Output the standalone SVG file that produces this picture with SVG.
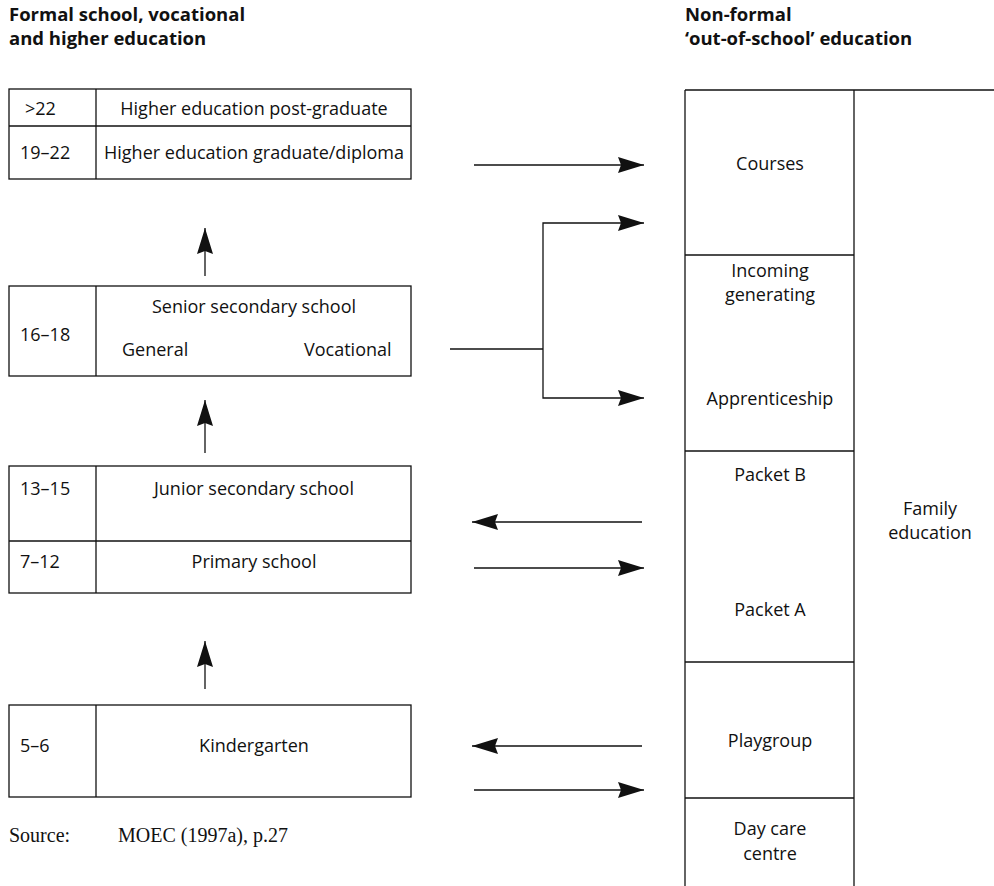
<svg xmlns="http://www.w3.org/2000/svg" width="994" height="886" viewBox="0 0 994 886">
<defs>
<style>
.t{font-family:"Open Sans","Liberation Sans",sans-serif;font-size:18px;fill:#111}
.c{text-anchor:middle}
.h{font-family:"Open Sans","Liberation Sans",sans-serif;font-size:18.5px;font-weight:bold;fill:#111}
.s{font-family:"Liberation Serif",serif;font-size:20px;fill:#111}
.b{fill:none;stroke:#111;stroke-width:1.3}
.l{fill:none;stroke:#111;stroke-width:1.3}
.a{fill:none;stroke:#111;stroke-width:1.3;marker-end:url(#ah)}
</style>
<marker id="ah" markerUnits="userSpaceOnUse" markerWidth="26" markerHeight="16" refX="26" refY="8" orient="auto">
<path d="M0,0 L26,8 L0,16 L3,8 Z" fill="#111"/>
</marker>
</defs>
<rect width="994" height="886" fill="#fff"/>
<g id="titles">
<text class="h" x="9" y="21">Formal school, vocational</text>
<text class="h" x="9" y="45">and higher education</text>
<text class="h" x="685" y="21">Non-formal</text>
<text class="h" x="685" y="45">‘out-of-school’ education</text>
</g>
<g id="higher">
<rect class="b" x="9" y="89" width="402" height="90"/>
<line class="b" x1="9" y1="126" x2="411" y2="126"/>
<line class="b" x1="96" y1="89" x2="96" y2="179"/>
<text class="t" x="25" y="115">&gt;22</text>
<text class="t c" x="254" y="115">Higher education post-graduate</text>
<text class="t" x="20" y="159">19–22</text>
<text class="t c" x="254" y="159">Higher education graduate/diploma</text>
</g>
<g id="senior">
<rect class="b" x="9" y="286" width="402" height="90"/>
<line class="b" x1="96" y1="286" x2="96" y2="376"/>
<text class="t" x="20" y="341">16–18</text>
<text class="t c" x="254" y="313">Senior secondary school</text>
<text class="t" x="122" y="356">General</text>
<text class="t" x="304" y="356">Vocational</text>
</g>
<g id="junior-primary">
<rect class="b" x="9" y="466" width="402" height="127"/>
<line class="b" x1="9" y1="541" x2="411" y2="541"/>
<line class="b" x1="96" y1="466" x2="96" y2="593"/>
<text class="t" x="20" y="495">13–15</text>
<text class="t c" x="254" y="495">Junior secondary school</text>
<text class="t" x="20" y="568">7–12</text>
<text class="t c" x="254" y="568">Primary school</text>
</g>
<g id="kindergarten">
<rect class="b" x="9" y="705" width="402" height="92"/>
<line class="b" x1="96" y1="705" x2="96" y2="797"/>
<text class="t" x="20" y="752">5–6</text>
<text class="t c" x="254" y="752">Kindergarten</text>
</g>
<g id="nonformal">
<line class="b" x1="685" y1="90" x2="994" y2="90"/>
<line class="b" x1="685" y1="90" x2="685" y2="886"/>
<line class="b" x1="854" y1="90" x2="854" y2="886"/>
<line class="b" x1="685" y1="255" x2="854" y2="255"/>
<line class="b" x1="685" y1="451" x2="854" y2="451"/>
<line class="b" x1="685" y1="662" x2="854" y2="662"/>
<line class="b" x1="685" y1="798" x2="854" y2="798"/>
<text class="t c" x="770" y="170">Courses</text>
<text class="t c" x="770" y="277">Incoming</text>
<text class="t c" x="770" y="301">generating</text>
<text class="t c" x="770" y="405">Apprenticeship</text>
<text class="t c" x="770" y="481">Packet B</text>
<text class="t c" x="770" y="616">Packet A</text>
<text class="t c" x="930" y="515">Family</text>
<text class="t c" x="930" y="539">education</text>
<text class="t c" x="770" y="747">Playgroup</text>
<text class="t c" x="770" y="835">Day care</text>
<text class="t c" x="770" y="860">centre</text>
</g>
<g id="connectors">
<line class="a" x1="474" y1="165" x2="644" y2="165"/>
<polyline class="l" points="450,349 543,349"/>
<polyline class="a" points="543,349 543,223 644,223"/>
<polyline class="a" points="543,349 543,398 644,398"/>
<line class="a" x1="642" y1="522" x2="472" y2="522"/>
<line class="a" x1="474" y1="568" x2="644" y2="568"/>
<line class="a" x1="642" y1="746" x2="472" y2="746"/>
<line class="a" x1="474" y1="790" x2="644" y2="790"/>
<line class="a" x1="205" y1="276" x2="205" y2="228"/>
<line class="a" x1="205" y1="453" x2="205" y2="400"/>
<line class="a" x1="205" y1="689" x2="205" y2="641"/>
</g>
<g id="source">
<text class="s" x="9" y="842">Source:</text>
<text class="s" x="118" y="842">MOEC (1997a), p.27</text>
</g>
</svg>
